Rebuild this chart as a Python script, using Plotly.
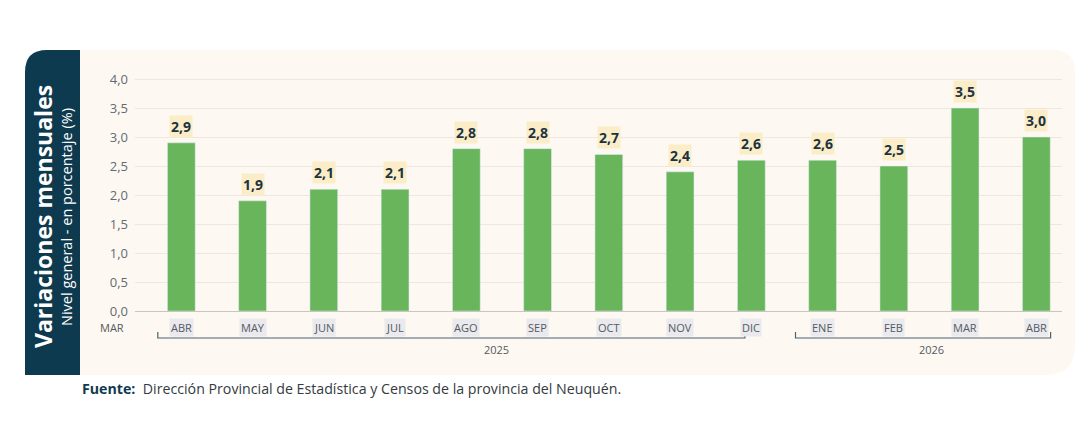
import plotly.graph_objects as go

months = ["ABR", "MAY", "JUN", "JUL", "AGO", "SEP", "OCT", "NOV", "DIC", "ENE", "FEB", "MAR", "ABR"]
values = [2.9, 1.9, 2.1, 2.1, 2.8, 2.8, 2.7, 2.4, 2.6, 2.6, 2.5, 3.5, 3.0]
years = ["2025", "2026"]
start_label = "MAR"
y_ticks = [0, 0.5, 1.0, 1.5, 2.0, 2.5, 3.0, 3.5, 4.0]
title = "Variaciones mensuales"
subtitle = "Nivel general - en porcentaje (%)"
source_bold = "Fuente:"
source_text = "Dirección Provincial de Estadística y Censos de la provincia del Neuquén."

W, H = 1080, 426
L, R, T, B = 135, 1062, 75, 311  # plot area in pixels
FONT = "Open Sans, Inter, sans-serif"
NAVY = "#0e3a4f"
GREEN = "#68b55c"
CREAM = "#fdf8f2"


def px(x):
    return (x - L) / (R - L)


def py(y):
    return (B - y) / (B - T)


xs = list(range(len(months)))

fig = go.Figure()
fig.add_trace(go.Bar(x=xs, y=values, marker_color=GREEN, width=0.39,
                     hoverinfo="skip", showlegend=False))

shapes = []
r = 22
cream_path = (f"M {px(80)},{py(50)} L {px(1075 - r)},{py(50)} "
              f"Q {px(1075)},{py(50)} {px(1075)},{py(50 + r)} "
              f"L {px(1075)},{py(375 - 30)} Q {px(1075)},{py(375)} {px(1075 - 30)},{py(375)} "
              f"L {px(80)},{py(375)} Z")
shapes.append(dict(type="path", xref="paper", yref="paper", path=cream_path,
                   fillcolor=CREAM, line=dict(width=0), layer="below"))
navy_path = (f"M {px(25)},{py(375)} L {px(25)},{py(50 + r)} "
             f"Q {px(25)},{py(50)} {px(25 + r)},{py(50)} "
             f"L {px(80)},{py(50)} L {px(80)},{py(375)} Z")
shapes.append(dict(type="path", xref="paper", yref="paper", path=navy_path,
                   fillcolor=NAVY, line=dict(width=0), layer="below"))

bcol = "#4a6272"
yline = py(338)
ytick = py(332)
for x0, x1 in [(-0.33, 7.91), (8.62, 12.2)]:
    shapes.append(dict(type="path", xref="x", yref="paper",
                       path=f"M {x0},{ytick} L {x0},{yline} L {x1},{yline} L {x1},{ytick}",
                       line=dict(color=bcol, width=1.2)))

annotations = []
for x, v in zip(xs, values):
    annotations.append(dict(x=x, y=v, xref="x", yref="y", text=f"<b>{v:.1f}".replace(".", ",") + "</b>",
                            showarrow=False, yanchor="bottom", yshift=5,
                            font=dict(family=FONT, size=14, color="#1d3340"),
                            bgcolor="#fbedc8", borderpad=1))
for x, m in zip(xs, months):
    annotations.append(dict(x=x, y=py(327), xref="x", yref="paper", text=m, showarrow=False,
                            font=dict(family=FONT, size=11, color="#555a60"),
                            bgcolor="#e9e9ee", borderpad=1, yanchor="middle"))
annotations.append(dict(x=px(112), y=py(327), xref="paper", yref="paper", text=start_label,
                        showarrow=False, yanchor="middle", xanchor="center",
                        font=dict(family=FONT, size=11, color="#555a60")))
for x, yr in zip([4.43, 10.53], years):
    annotations.append(dict(x=x, y=py(349), xref="x", yref="paper", text=yr, showarrow=False,
                            yanchor="middle", xanchor="center",
                            font=dict(family=FONT, size=11, color="#555a60")))
annotations.append(dict(x=px(43), y=py(217), xref="paper", yref="paper", text=f"<b>{title}</b>",
                        textangle=-90, showarrow=False, xanchor="center", yanchor="middle",
                        font=dict(family=FONT, size=23, color="white")))
annotations.append(dict(x=px(66), y=py(217), xref="paper", yref="paper", text=subtitle,
                        textangle=-90, showarrow=False, xanchor="center", yanchor="middle",
                        font=dict(family=FONT, size=14.5, color="white")))
annotations.append(dict(x=px(80), y=py(388), xref="paper", yref="paper",
                        text=f"<b><span style='color:{NAVY}'>{source_bold}</span></b>  {source_text}",
                        showarrow=False, xanchor="left", yanchor="middle",
                        font=dict(family=FONT, size=14.2, color="#333a40")))

fig.update_layout(
    width=W, height=H,
    margin=dict(l=L, r=W - R, t=T, b=H - B),
    paper_bgcolor="white", plot_bgcolor="rgba(0,0,0,0)",
    separators=",.",
    shapes=shapes, annotations=annotations,
    xaxis=dict(range=[-0.65, 12.36], showticklabels=False, showgrid=False, zeroline=False,
               fixedrange=True),
    yaxis=dict(range=[0, 4.07], tickvals=y_ticks, tickformat=".1f", showgrid=True,
               gridcolor="#eee7de", gridwidth=1, zeroline=True, zerolinecolor="#c9c6c2",
               zerolinewidth=1.3, ticks="", ticklabelstandoff=6,
               tickfont=dict(family=FONT, size=13, color="#666a70"), fixedrange=True),
    bargap=0.6,
)

fig.write_html("out.html")
